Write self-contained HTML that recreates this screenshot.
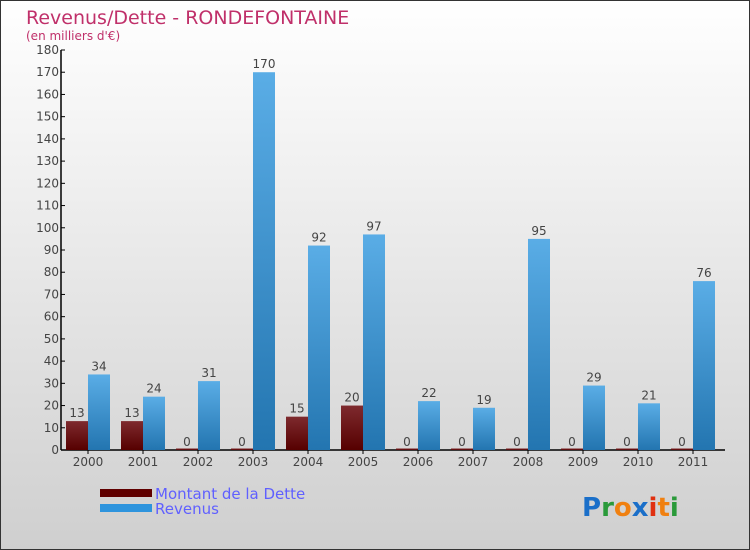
<!DOCTYPE html>
<html><head><meta charset="utf-8"><style>
html,body{margin:0;padding:0;width:750px;height:550px;overflow:hidden}
svg{display:block;font-family:"DejaVu Sans","Liberation Sans",sans-serif}
</style></head><body>
<svg id="c" width="750" height="550">
<defs>
<linearGradient id="bg" x1="0" y1="0" x2="0" y2="1"><stop offset="0" stop-color="#ffffff"/><stop offset="1" stop-color="#cfcfcf"/></linearGradient>
<linearGradient id="gb" x1="0" y1="0" x2="0" y2="1"><stop offset="0" stop-color="#5aade6"/><stop offset="1" stop-color="#2375b0"/></linearGradient>
<linearGradient id="gr" x1="0" y1="0" x2="0" y2="1"><stop offset="0" stop-color="#7e2a2e"/><stop offset="1" stop-color="#560000"/></linearGradient>
</defs>
<rect x="0.5" y="0.5" width="749" height="549" fill="url(#bg)" stroke="#333"/>
<text x="26" y="24" font-size="19" fill="#c0306a">Revenus/Dette - RONDEFONTAINE</text>
<text x="26" y="40" font-size="12" fill="#c0306a">(en milliers d'€)</text>
<g id="axes"></g><g id="bars"></g>
<g>
<rect x="100" y="489" width="52" height="8" fill="#600000"/>
<text x="155" y="499" font-size="15" fill="#6060ff">Montant de la Dette</text>
<rect x="100" y="504" width="52" height="8" fill="#2e94dd"/>
<text x="155" y="514" font-size="15" fill="#6060ff">Revenus</text>
</g>
<g font-size="26" font-weight="bold">
<text x="582" y="516"><tspan fill="#1a6fc9">P</tspan><tspan fill="#2a9a3a">r</tspan><tspan fill="#f08010">o</tspan><tspan fill="#1a6fc9">x</tspan><tspan fill="#e03010">i</tspan><tspan fill="#f08010">t</tspan><tspan fill="#2a9a3a">i</tspan></text>
</g>
</svg>
<script>
const categories=["2000","2001","2002","2003","2004","2005","2006","2007","2008","2009","2010","2011"];
const detteValues=[13,13,0,0,15,20,0,0,0,0,0,0];
const revenusValues=[34,24,31,170,92,97,22,19,95,29,21,76];
const yTicks=[0,10,20,30,40,50,60,70,80,90,100,110,120,130,140,150,160,170,180];
const NS="http://www.w3.org/2000/svg";
const y0=450,yTop=50,yMax=180,xAxis=61,x0=88,step=55,bw=22;
function y(v){return y0-(v/yMax)*(y0-yTop);}
function xc(i){return x0+i*step;}
function mk(t,a,p){const e=document.createElementNS(NS,t);for(const k in a)e.setAttribute(k,a[k]);p.appendChild(e);return e;}
const ax=document.getElementById('axes'),bars=document.getElementById('bars');
let l=mk('line',{x1:xAxis,y1:yTop,x2:xAxis,y2:y0,stroke:'#000','stroke-width':1.5},ax);


l=mk('line',{x1:xAxis,y1:y0,x2:725,y2:y0,stroke:'#000','stroke-width':1.5},ax);


yTicks.forEach(v=>{
 mk('line',{x1:xAxis,y1:y(v),x2:xAxis+4,y2:y(v),stroke:'#000'},ax);
 const t=mk('text',{x:xAxis-2,y:y(v)+4,'font-size':12,fill:'#444','text-anchor':'end'},ax);
 t.textContent=v;
 
 
});
categories.forEach((c,i)=>{
 mk('line',{x1:xAxis+27+i*step,y1:y0,x2:xAxis+27+i*step,y2:y0+4,stroke:'#000'},ax);
 const t=mk('text',{x:xc(i),y:y0+16,'font-size':12,fill:'#444','text-anchor':'middle'},ax);
 t.textContent=c;
 
 
 const d=detteValues[i],r=revenusValues[i];
 const hd=Math.max(y0-y(d),1.5);
 const b1=mk('rect',{x:xc(i)-bw,y:y0-hd,width:bw,height:hd,fill:'url(#gr)'},bars);
 
 
 const t1=mk('text',{x:xc(i)-bw/2,y:y(d)-4,'font-size':12,fill:'#444','text-anchor':'middle'},bars);
 t1.textContent=d;
 
 
 const b2=mk('rect',{x:xc(i),y:y(r),width:bw,height:y0-y(r),fill:'url(#gb)'},bars);
 
 
 const t2=mk('text',{x:xc(i)+bw/2,y:y(r)-4,'font-size':12,fill:'#444','text-anchor':'middle'},bars);
 t2.textContent=r;
 
 
});
</script>
</body></html>
